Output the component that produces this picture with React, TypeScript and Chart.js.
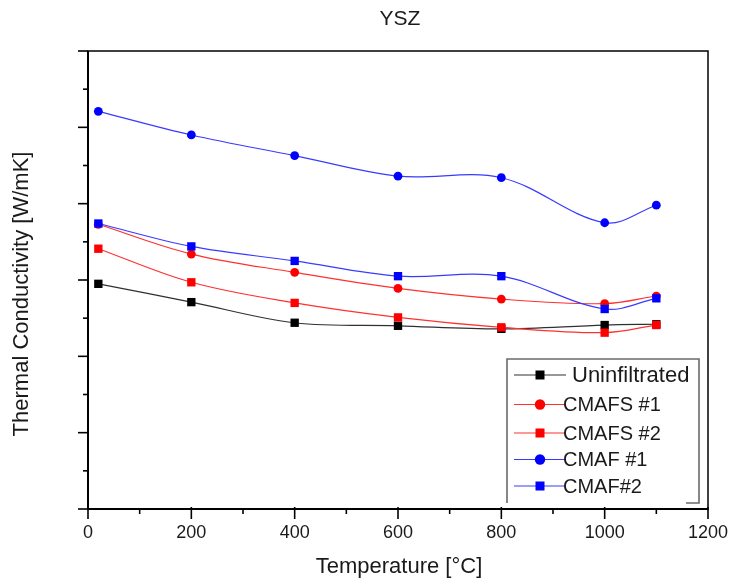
import React, { useEffect, useRef } from 'react';
import { Chart, registerables } from 'chart.js';

Chart.register(...registerables);

// ---- data ----
const temperatures = [20, 200, 400, 600, 800, 1000, 1100];
const uninfiltrated = [2.95, 2.71, 2.44, 2.40, 2.36, 2.41, 2.42];
const cmafs1 = [3.73, 3.34, 3.10, 2.89, 2.75, 2.69, 2.79];
const cmafs2 = [3.41, 2.97, 2.70, 2.51, 2.38, 2.31, 2.41];
const cmaf1 = [5.21, 4.90, 4.63, 4.36, 4.34, 3.75, 3.98];
const cmaf2 = [3.74, 3.44, 3.25, 3.05, 3.05, 2.62, 2.76];
const seriesNames = ['Uninfiltrated', 'CMAFS #1', 'CMAFS #2', 'CMAF #1', 'CMAF#2'];
const seriesValues = [uninfiltrated, cmafs1, cmafs2, cmaf1, cmaf2];
const seriesLineColors = ['#303030', '#ff3030', '#ff3030', '#3a3aff', '#3a3aff'];
const seriesMarkerColors = ['#000000', '#ff0000', '#ff0000', '#0000ff', '#0000ff'];
const seriesMarkers = ['rect', 'circle', 'rect', 'circle', 'rect'];
const titleText = 'YSZ';
const xTitle = 'Temperature [°C]';
const yTitle = 'Thermal Conductivity [W/mK]';
const xMin = 0;
const xMax = 1200;
const xStep = 200;
const yMin = 0;
const yMax = 6;
const yStep = 0.5;

const FONT = '"Liberation Sans", Arial, Helvetica, sans-serif';
const TEXT = '#1a1a1a';

const decorPlugin = {
  id: 'decor',
  afterDraw(chart: any) {
    const ctx = chart.ctx as CanvasRenderingContext2D;
    const { left, right, top, bottom } = chart.chartArea;
    const xs = chart.scales.x;
    const ys = chart.scales.y;
    ctx.save();

    // frame
    ctx.strokeStyle = '#000';
    ctx.lineWidth = 1.5;
    ctx.strokeRect(left, top, right - left, bottom - top);
    ctx.lineWidth = 2;
    ctx.beginPath();
    ctx.moveTo(left, top);
    ctx.lineTo(left, bottom);
    ctx.lineTo(right, bottom);
    ctx.stroke();

    // x ticks (major from scale ticks, minor at midpoints)
    ctx.lineWidth = 1.6;
    const xt = xs.ticks.map((t: any) => t.value);
    xt.forEach((v: number, i: number) => {
      const px = xs.getPixelForValue(v);
      ctx.beginPath();
      ctx.moveTo(px, bottom - 2);
      ctx.lineTo(px, bottom + 10);
      ctx.stroke();
      if (i < xt.length - 1) {
        const mx = xs.getPixelForValue((v + xt[i + 1]) / 2);
        ctx.beginPath();
        ctx.moveTo(mx, bottom);
        ctx.lineTo(mx, bottom + 5);
        ctx.stroke();
      }
    });
    // x tick labels
    ctx.fillStyle = TEXT;
    ctx.font = `18px ${FONT}`;
    ctx.textAlign = 'center';
    ctx.textBaseline = 'middle';
    xt.forEach((v: number) => {
      ctx.fillText(String(v), xs.getPixelForValue(v), 533);
    });

    // y ticks: integer -> major, half -> minor
    ys.ticks.forEach((t: any) => {
      const py = ys.getPixelForValue(t.value);
      const major = Math.abs(t.value - Math.round(t.value)) < 1e-6;
      ctx.beginPath();
      ctx.moveTo(left - (major ? 10 : 5), py);
      ctx.lineTo(left, py);
      ctx.stroke();
    });

    // titles
    ctx.fillStyle = TEXT;
    ctx.font = `21px ${FONT}`;
    ctx.textAlign = 'center';
    ctx.textBaseline = 'middle';
    ctx.fillText(titleText, 400, 19);
    ctx.font = `22px ${FONT}`;
    ctx.fillText(xTitle, 399, 567);
    ctx.save();
    ctx.translate(22, 294);
    ctx.rotate(-Math.PI / 2);
    ctx.fillText(yTitle, 0, 0);
    ctx.restore();

    // legend
    const bx0 = 507, by0 = 359, bx1 = 699, by1 = 503;
    ctx.fillStyle = '#fff';
    ctx.fillRect(bx0, by0, bx1 - bx0, by1 - by0);
    ctx.strokeStyle = '#6a6a6a';
    ctx.lineWidth = 1.6;
    ctx.beginPath();
    ctx.moveTo(bx0, by1);
    ctx.lineTo(bx0, by0);
    ctx.lineTo(bx1, by0);
    ctx.lineTo(bx1, by1);
    ctx.lineTo(bx1 - 13, by1);
    ctx.stroke();

    const rows = [375, 404.5, 433, 459.5, 486];
    chart.data.datasets.forEach((ds: any, i: number) => {
      const y = rows[i];
      ctx.strokeStyle = ds.borderColor;
      ctx.lineWidth = 1.2;
      ctx.beginPath();
      ctx.moveTo(514, y);
      ctx.lineTo(566, y);
      ctx.stroke();
      ctx.fillStyle = ds.pointBackgroundColor;
      if (ds.pointStyle === 'circle') {
        ctx.beginPath();
        ctx.arc(540, y, 5.2, 0, Math.PI * 2);
        ctx.fill();
      } else {
        ctx.fillRect(540 - 4.5, y - 4.5, 9, 9);
      }
      ctx.fillStyle = TEXT;
      ctx.textAlign = 'left';
      ctx.textBaseline = 'middle';
      if (i === 0) {
        ctx.font = `22px ${FONT}`;
        ctx.fillText(ds.label, 572, y + 1);
      } else {
        ctx.font = `20px ${FONT}`;
        ctx.fillText(ds.label, 563, y + 1);
      }
    });

    ctx.restore();
  },
};

export default function App() {
  const ref = useRef<HTMLCanvasElement | null>(null);

  useEffect(() => {
    document.body.style.margin = '0';
    const canvas = ref.current;
    if (!canvas) return;
    const datasets = seriesNames.map((name, i) => ({
      label: name,
      data: temperatures.map((t, j) => ({ x: t, y: seriesValues[i][j] })),
      borderColor: seriesLineColors[i],
      borderWidth: 1.2,
      backgroundColor: seriesMarkerColors[i],
      pointBackgroundColor: seriesMarkerColors[i],
      pointBorderColor: seriesMarkerColors[i],
      pointBorderWidth: 0,
      pointStyle: seriesMarkers[i],
      pointRadius: seriesMarkers[i] === 'circle' ? 4.4 : 5.9,
      tension: 0.35,
      fill: false,
      order: seriesNames.length - i,
    }));

    const chart = new Chart(canvas, {
      type: 'line',
      data: { datasets },
      options: {
        animation: false,
        responsive: false,
        devicePixelRatio: 1,
        layout: { padding: { left: 0, right: 22, top: 51, bottom: 0 } },
        plugins: {
          legend: { display: false },
          title: { display: false },
          tooltip: { enabled: false },
        },
        scales: {
          x: {
            type: 'linear',
            min: xMin,
            max: xMax,
            ticks: { stepSize: xStep, display: false },
            grid: { display: false },
            border: { display: false },
            afterFit: (s: any) => { s.height = 71; },
          },
          y: {
            type: 'linear',
            min: yMin,
            max: yMax,
            ticks: { stepSize: yStep, display: false },
            grid: { display: false },
            border: { display: false },
            afterFit: (s: any) => { s.width = 88; },
          },
        },
      },
      plugins: [decorPlugin],
    } as any);

    return () => chart.destroy();
  }, []);

  return (
    <div style={{ width: 730, height: 580, background: '#fff' }}>
      <canvas ref={ref} width={730} height={580} style={{ display: 'block' }} />
    </div>
  );
}
